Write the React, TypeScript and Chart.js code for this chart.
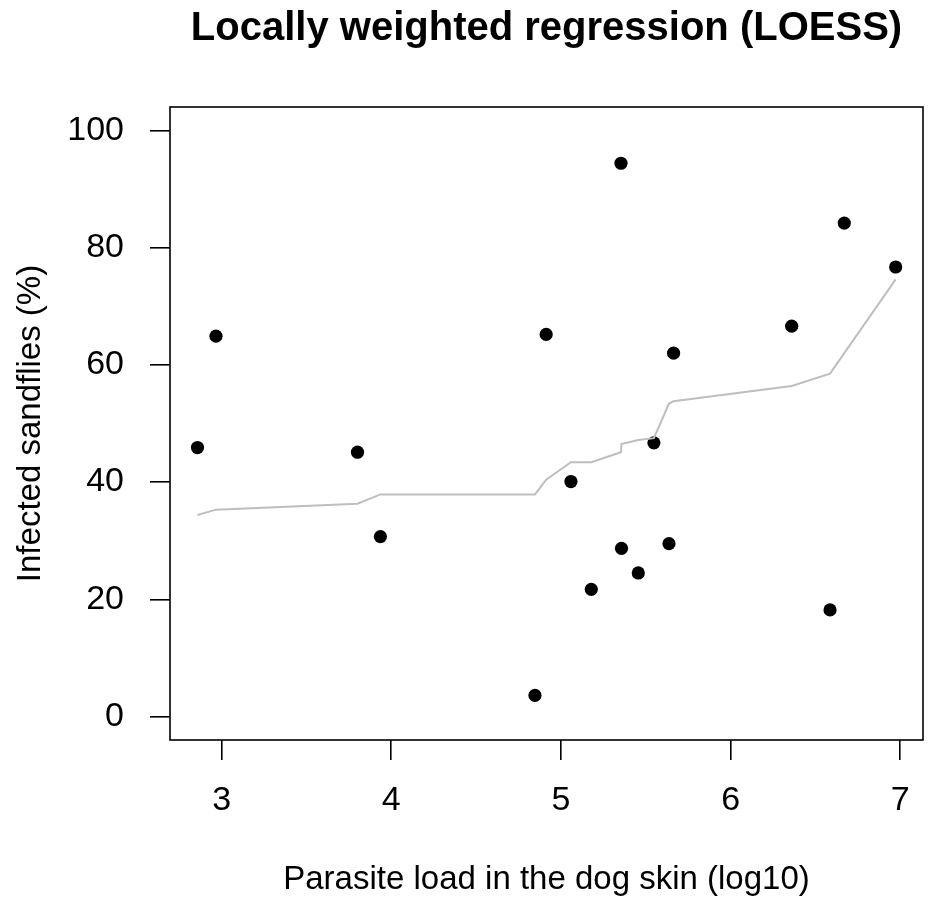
import { useEffect, useRef } from "react";
import { Chart, registerables } from "chart.js";

Chart.register(...registerables);

// Data (sorted by parasite load)
const parasiteLoad = [2.858, 2.967, 3.801, 3.936, 4.847, 4.913, 5.059, 5.179, 5.354, 5.357, 5.456, 5.548, 5.637, 5.664, 6.36, 6.586, 6.67, 6.973];
const infectedPct = [45.9, 64.9, 45.1, 30.7, 3.6, 65.2, 40.1, 21.7, 94.4, 28.7, 24.5, 46.7, 29.5, 62.0, 66.6, 18.2, 84.2, 76.7];
const loessFit = [34.4, 35.3, 36.3, 37.9, 37.9, 40.4, 43.4, 43.4, 45.1, 46.5, 47.2, 47.5, 53.4, 53.8, 56.4, 58.5, 62.0, 74.6];

const xTicks = [3, 4, 5, 6, 7];
const yTicks = [0, 20, 40, 60, 80, 100];

const titleText = "Locally weighted regression (LOESS)";
const xLabel = "Parasite load in the dog skin (log10)";
const yLabel = "Infected sandflies (%)";

const FONT = "'Liberation Sans', Arial, Helvetica, sans-serif";

const boxPlugin = {
  id: "plotBox",
  afterDraw(chart: any) {
    const { ctx, chartArea } = chart;
    const { left, top, right, bottom } = chartArea;
    ctx.save();
    ctx.strokeStyle = "#000";
    ctx.lineWidth = 1.6;
    ctx.strokeRect(left, top, right - left, bottom - top);
    ctx.restore();
  },
};

export default function App() {
  const ref = useRef<HTMLCanvasElement | null>(null);

  useEffect(() => {
    document.body.style.margin = "0";
    const canvas = ref.current;
    if (!canvas) return;

    const tickFont = { family: FONT, size: 34 };
    const labelFont = { family: FONT, size: 33 };
    const gridOpts = {
      drawOnChartArea: false,
      drawTicks: true,
      tickLength: 20,
      color: "#000",
      lineWidth: 1.6,
    };

    const chart = new Chart(canvas, {
      type: "scatter",
      data: {
        datasets: [
          {
            label: "LOESS",
            data: parasiteLoad.map((x, i) => ({ x, y: loessFit[i] })),
            showLine: true,
            borderColor: "#bebebe",
            backgroundColor: "#bebebe",
            borderWidth: 2,
            pointRadius: 0,
            pointHoverRadius: 0,
            tension: 0,
            fill: false,
            order: 0,
          },
          {
            label: "Observed",
            data: parasiteLoad.map((x, i) => ({ x, y: infectedPct[i] })),
            backgroundColor: "#000",
            borderColor: "#000",
            borderWidth: 0,
            pointRadius: 6.6,
            pointHoverRadius: 6.6,
            order: 1,
          },
        ],
      },
      options: {
        animation: false,
        responsive: false,
        devicePixelRatio: 1,
        events: [],
        layout: { padding: { left: 0, right: 9, top: 0, bottom: 0 } },
        plugins: {
          legend: { display: false },
          tooltip: { enabled: false },
          title: {
            display: true,
            text: titleText,
            color: "#000",
            fullSize: false,
            font: { family: FONT, size: 40, weight: "bold" },
            padding: { top: 5, bottom: 54 },
          },
        },
        scales: {
          x: {
            type: "linear",
            min: 2.696,
            max: 7.134,
            afterFit: (s: any) => {
              s.height = 169;
            },
            afterBuildTicks: (s: any) => {
              s.ticks = xTicks.map((v) => ({ value: v }));
            },
            grid: gridOpts,
            border: { display: false },
            ticks: {
              font: tickFont,
              color: "#000",
              padding: 20,
              maxRotation: 0,
              autoSkip: false,
              callback: (v: any) => String(v),
            },
            title: {
              display: true,
              text: xLabel,
              color: "#000",
              font: labelFont,
              padding: { top: 0, bottom: 9 },
            },
          },
          y: {
            type: "linear",
            min: -4,
            max: 104,
            afterFit: (s: any) => {
              s.width = 170;
            },
            afterBuildTicks: (s: any) => {
              s.ticks = yTicks.map((v) => ({ value: v }));
            },
            grid: gridOpts,
            border: { display: false },
            ticks: {
              font: tickFont,
              color: "#000",
              padding: 26,
              autoSkip: false,
              callback: (v: any) => String(v),
            },
            title: {
              display: true,
              text: yLabel,
              color: "#000",
              font: labelFont,
              padding: { top: 11, bottom: 0 },
            },
          },
        },
      },
      plugins: [boxPlugin],
    } as any);

    return () => chart.destroy();
  }, []);

  return (
    <div style={{ width: 932, height: 909, background: "#fff" }}>
      <canvas ref={ref} width={932} height={909} style={{ display: "block" }} />
    </div>
  );
}
